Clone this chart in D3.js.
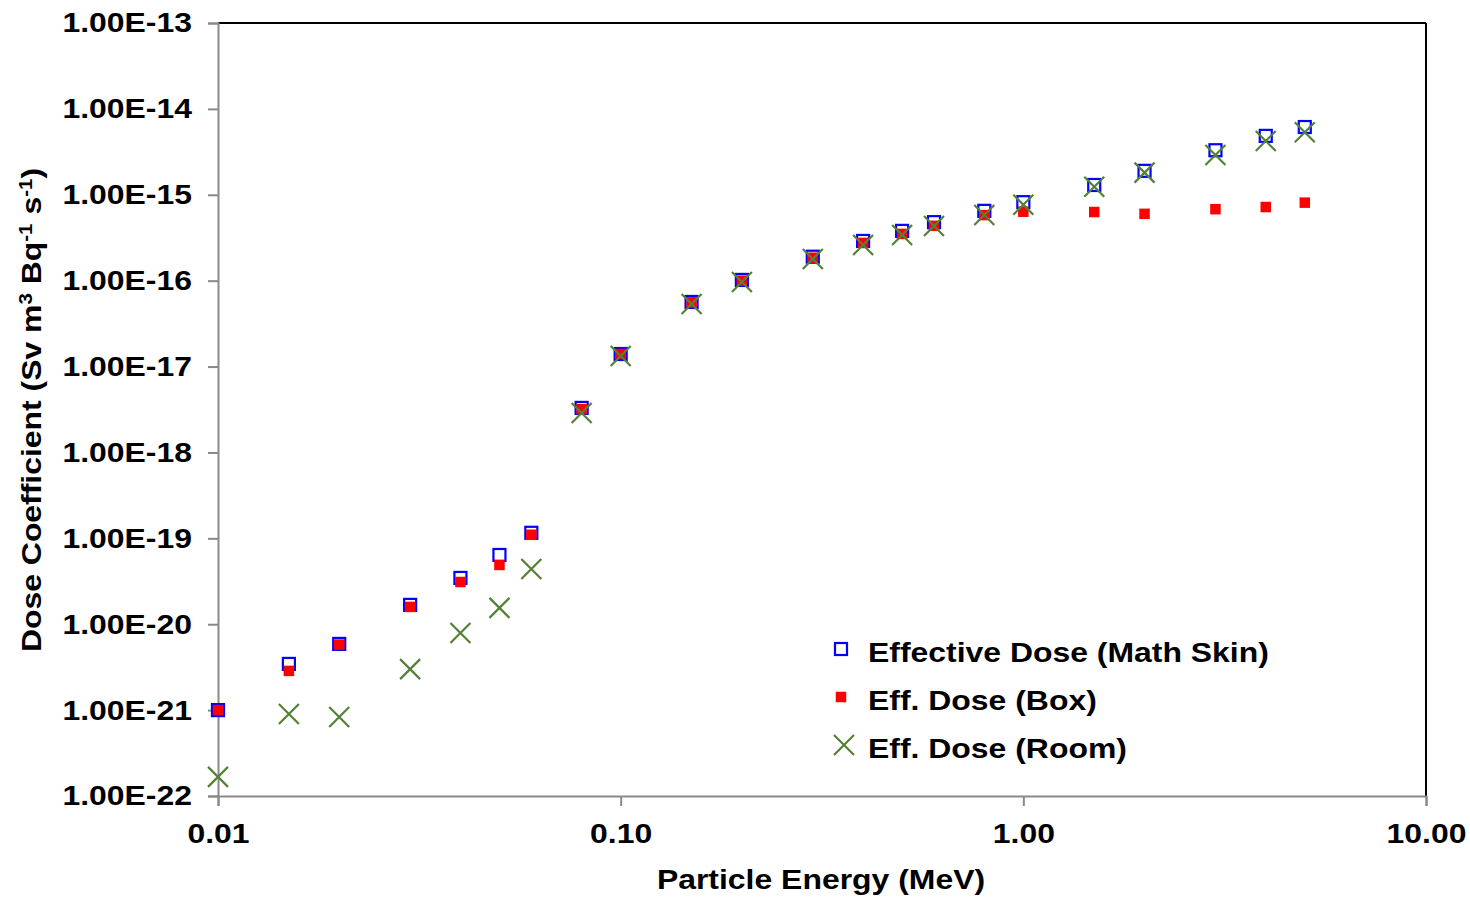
<!DOCTYPE html>
<html><head><meta charset="utf-8">
<script src="https://cdn.jsdelivr.net/npm/d3@7"></script>
<style>body{margin:0;background:#fff}svg{display:block}text{font-family:"Liberation Sans",Arial,sans-serif;font-weight:bold;fill:#000}</style>
</head><body>
<svg id="c" width="1470" height="897"></svg>
<script>
const energies = [0.01,0.015,0.02,0.03,0.04,0.05,0.06,0.08,0.1,0.15,0.2,0.3,0.4,0.5,0.6,0.8,1.0,1.5,2,3,4,5];
const mathSkin = [1.0e-21,3.45e-21,5.9e-21,1.68e-20,3.46e-20,6.4e-20,1.16e-19,3.3e-18,1.4e-17,5.65e-17,1.02e-16,1.9e-16,2.9e-16,3.8e-16,4.8e-16,6.5e-16,8.2e-16,1.3e-15,1.9e-15,3.3e-15,4.85e-15,6.15e-15];
const box = [1.0e-21,2.86e-21,5.8e-21,1.59e-20,3.1e-20,4.9e-20,1.1e-19,3.2e-18,1.4e-17,5.6e-17,1.0e-16,1.85e-16,2.75e-16,3.5e-16,4.35e-16,5.8e-16,6.35e-16,6.3e-16,6.0e-16,6.8e-16,7.2e-16,8.1e-16];
const room = [1.67e-22,9.0e-22,8.3e-22,3.0e-21,7.9e-21,1.55e-20,4.4e-20,2.88e-18,1.33e-17,5.36e-17,9.66e-17,1.79e-16,2.6e-16,3.4e-16,4.33e-16,5.8e-16,7.67e-16,1.24e-15,1.81e-15,2.9e-15,4.23e-15,5.34e-15];
const xTicks = [0.01,0.1,1,10];
const xTickLabels = ["0.01","0.10","1.00","10.00"];
const yTicks = [1e-22,1e-21,1e-20,1e-19,1e-18,1e-17,1e-16,1e-15,1e-14,1e-13];
const yTickLabels = ["1.00E-22","1.00E-21","1.00E-20","1.00E-19","1.00E-18","1.00E-17","1.00E-16","1.00E-15","1.00E-14","1.00E-13"];
const seriesNames = ["Effective Dose (Math Skin)","Eff. Dose (Box)","Eff. Dose (Room)"];

const svg = d3.select("#c");
const L=218,R=1426,T=23,B=796;
const FS = "28px", STRETCH = 1.14;
const x = d3.scaleLog().domain([0.01,10]).range([L,R]);
const y = d3.scaleLog().domain([1e-22,1e-13]).range([B,T]);

function widen(sel){
  sel.each(function(){
    const w = this.getComputedTextLength();
    d3.select(this).attr("textLength", w*STRETCH).attr("lengthAdjust","spacingAndGlyphs");
  });
}

svg.append("line").attr("x1",L).attr("x2",R).attr("y1",T).attr("y2",T).attr("stroke","#000").attr("stroke-width",2);
svg.append("line").attr("x1",R).attr("x2",R).attr("y1",T).attr("y2",B).attr("stroke","#000").attr("stroke-width",2);

const yAx = svg.append("g").attr("transform",`translate(${L},0)`)
  .call(d3.axisLeft(y).tickValues(yTicks).tickFormat((d,i)=>yTickLabels[i]).tickSize(10).tickPadding(16));
yAx.select(".domain").attr("stroke","#898989").attr("stroke-width",2);
yAx.selectAll(".tick line").attr("stroke","#898989").attr("stroke-width",2);
yAx.selectAll(".tick text").style("font-size",FS).style("font-family","Liberation Sans, Arial, sans-serif").style("font-weight","bold").attr("fill","#000").call(widen);

const xAx = svg.append("g").attr("transform",`translate(0,${B})`)
  .call(d3.axisBottom(x).tickValues(xTicks).tickFormat((d,i)=>xTickLabels[i]).tickSize(10).tickPadding(17));
xAx.select(".domain").attr("stroke","#898989").attr("stroke-width",2);
xAx.selectAll(".tick line").attr("stroke","#898989").attr("stroke-width",2);
xAx.selectAll(".tick text").style("font-size",FS).style("font-family","Liberation Sans, Arial, sans-serif").style("font-weight","bold").attr("fill","#000").call(widen);

svg.append("text").attr("x",821).attr("y",889).attr("text-anchor","middle").style("font-size",FS).text("Particle Energy (MeV)").call(widen);
const yt = svg.append("text").attr("transform",`translate(41,410) rotate(-90) scale(${STRETCH},1)`).attr("text-anchor","middle").style("font-size",FS);
yt.append("tspan").text("Dose Coefficient (Sv m");
yt.append("tspan").attr("baseline-shift","super").style("font-size","18px").text("3");
yt.append("tspan").text(" Bq");
yt.append("tspan").attr("baseline-shift","super").style("font-size","18px").text("-1");
yt.append("tspan").text(" s");
yt.append("tspan").attr("baseline-shift","super").style("font-size","18px").text("-1");
yt.append("tspan").text(")");

const g = svg.append("g");
const sq = 14, rsq = 10.5, xs = 10;
function blueSq(sel){ sel.attr("width",sq-2).attr("height",sq-2).attr("fill","none").attr("stroke","#0000ff").attr("stroke-width",2.2); }
function redSq(sel){ sel.attr("width",rsq).attr("height",rsq).attr("fill","#ff0000"); }
function greenX(sel){ sel.attr("d",`M${-xs},${-xs}L${xs},${xs}M${-xs},${xs}L${xs},${-xs}`).attr("stroke","#548235").attr("stroke-width",2.2).attr("fill","none"); }

g.selectAll("rect.ms").data(energies).join("rect").attr("class","ms")
  .attr("x",(d)=>x(d)-(sq-2)/2).attr("y",(d,i)=>y(mathSkin[i])-(sq-2)/2).call(blueSq);
g.selectAll("rect.bx").data(energies).join("rect").attr("class","bx")
  .attr("x",(d)=>x(d)-rsq/2).attr("y",(d,i)=>y(box[i])-rsq/2).call(redSq);
g.selectAll("path.rm").data(energies).join("path").attr("class","rm")
  .attr("transform",(d,i)=>`translate(${x(d)},${y(room[i])})`).call(greenX);

const lg = svg.append("g");
const ly = [649,697,745];
lg.append("rect").attr("x",841-(sq-2)/2).attr("y",ly[0]-(sq-2)/2).call(blueSq);
lg.append("rect").attr("x",841-rsq/2).attr("y",ly[1]-rsq/2).call(redSq);
lg.append("path").attr("transform",`translate(844,${ly[2]})`).call(greenX);
seriesNames.forEach((n,i)=>{
  lg.append("text").attr("x",868).attr("y",ly[i]+13).style("font-size",FS).text(n).call(widen);
});
</script>
</body></html>
